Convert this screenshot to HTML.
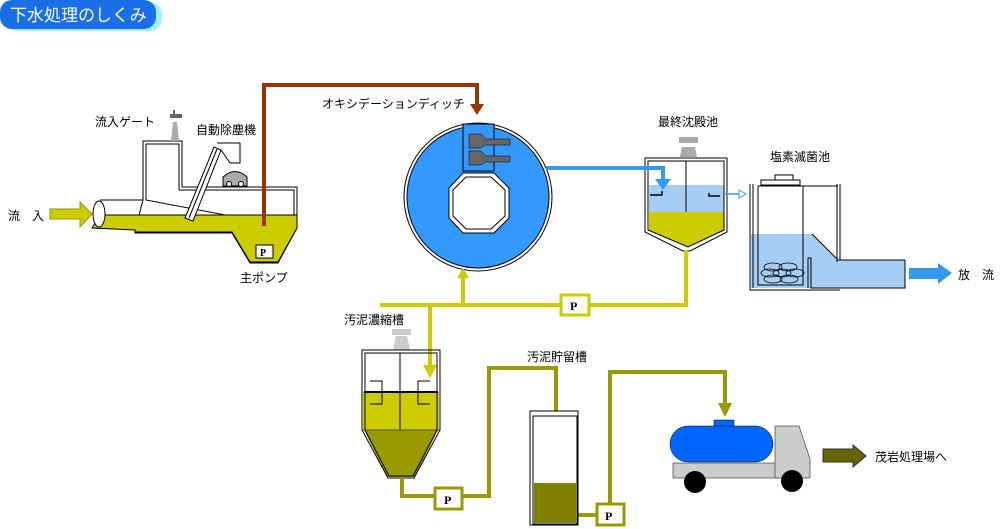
<!DOCTYPE html>
<html><head><meta charset="utf-8"><style>
body{margin:0;background:#fff;}
svg{display:block;font-family:"Liberation Sans","Noto Sans CJK JP",sans-serif;}
</style></head><body>
<svg width="1000" height="529" viewBox="0 0 1000 529" xmlns="http://www.w3.org/2000/svg">
<rect x="6" y="2" width="156" height="29" rx="12" fill="#9ff0ff"/>
<rect x="0" y="0" width="156" height="29" rx="12" fill="#1a6ee8"/>
<text x="10" y="21" font-size="17" fill="#fff">下水処理のしくみ</text>

<g font-size="12" fill="#000">
<text x="95" y="126">流入ゲート</text>
<text x="196" y="134">自動除塵機</text>
<text x="240" y="282">主ポンプ</text>
<text x="8" y="220">流　入</text>
<text x="322" y="108">オキシデーションディッチ</text>
<text x="658" y="126">最終沈殿池</text>
<text x="770" y="161">塩素滅菌池</text>
<text x="958" y="279">放　流</text>
<text x="344" y="324">汚泥濃縮槽</text>
<text x="527" y="361">汚泥貯留槽</text>
<text x="875" y="461">茂岩処理場へ</text>
</g>

<polygon points="50,209 80,209 80,202 92,214 80,227 80,219 50,219" fill="#cccc00" stroke="#999900"/>
<polygon points="143,200 143,141 182,141 182,187 297,187 297,228 278,263 250,263 232,233 135,233 135,230" fill="none" stroke="#000"/>
<polygon points="146,200 146,144 179,144 179,190 294,190 294,228" fill="none" stroke="#000"/>
<path d="M100,200 L143,200" stroke="#000"/>
<polygon points="92,228 100,215 297,215 297,228 278,262 250,262 232,232 135,232 135,230" fill="#cccc00" stroke="#000"/>
<ellipse cx="99" cy="214" rx="6" ry="13" fill="#fff" stroke="#000"/>
<polygon points="171,141 179,141 177,122 173,122" fill="#aaa"/>
<rect x="170" y="114" width="12" height="4" fill="#666"/><rect x="173" y="110" width="2" height="8" fill="#666"/>
<polygon points="185,218 193,221 221,150 214,147" fill="#fff" stroke="#000"/>
<line x1="189" y1="218" x2="217" y2="149" stroke="#000"/>
<path d="M217,143 L240,143 L240,163 L230,163 L221,150" fill="none" stroke="#000"/>
<path d="M223,186 L223,177 Q235,166 247,177 L247,186 Z" fill="#aaa" stroke="#000"/>
<circle cx="229" cy="184" r="2.5" fill="#fff" stroke="#000"/><circle cx="241" cy="184" r="2.5" fill="#fff" stroke="#000"/>
<polyline points="264,226 264,85 477,85 477,105" fill="none" stroke="#993300" stroke-width="4"/>
<polygon points="470,104 484,104 477,115" fill="#993300"/>
<rect x="256" y="245" width="17" height="13" fill="#fff" stroke="#000"/>
<text x="260" y="256" font-size="10" font-weight="bold" font-family="Liberation Serif,serif">P</text>

<circle cx="478" cy="197" r="74" fill="#fff" stroke="#000"/>
<circle cx="478" cy="197" r="71" fill="#3399ff" stroke="#000"/>
<rect x="463" y="124" width="31" height="47" fill="#3399ff" stroke="#000"/>
<polygon points="463,173 494,173 509,188 509,218 494,233 463,233 449,218 449,188" fill="#fff" stroke="#000"/>
<polygon points="466,177 491,177 505,190 505,216 491,229 466,229 453,216 453,190" fill="#fff" stroke="#000"/>
<polygon points="469,134 481,134 486,139 510,139 510,145 486,145 481,148 469,148" fill="#666" stroke="#000" stroke-width=".5"/>
<polygon points="469,151 481,151 486,156 510,156 510,162 486,162 481,165 469,165" fill="#666" stroke="#000" stroke-width=".5"/>

<polygon points="680,157 697,157 695,147 682,147" fill="#aaa"/><rect x="679" y="137" width="19" height="6" fill="#aaa"/>
<polygon points="645,158 727,158 727,232 690,251 683,251 645,232" fill="#fff" stroke="#000"/>
<rect x="649" y="185" width="75" height="27" fill="#a6cef5"/>
<polygon points="649,212 724,212 724,230 688,247 649,230" fill="#cccc00"/>
<polygon points="648,161 724,161 724,230 688,247 648,230" fill="none" stroke="#000"/>
<line x1="686" y1="161" x2="686" y2="212" stroke="#000"/>
<path d="M650,195 L662,195 L662,191" stroke="#000" fill="none" stroke-width="1.5"/>
<path d="M720,196 L709,196 L709,193" stroke="#000" fill="none" stroke-width="1.5"/>
<path d="M725,194 L740,194" stroke="#3399ff" stroke-width="1.5"/><polygon points="739,190 746,194 739,198" fill="#fff" stroke="#3399ff"/>
<polyline points="546,168 663,168 663,180" fill="none" stroke="#3399ff" stroke-width="4"/>
<polygon points="655,179 671,179 663,190" fill="#3399ff"/>

<rect x="761" y="180" width="39" height="5" fill="#fff" stroke="#000"/><rect x="775" y="175" width="18" height="5" fill="#fff" stroke="#000"/>
<polygon points="751,234 812,234 838,260 905,260 905,288 811,288 751,288" fill="#a6cef5"/>
<path d="M750,184 L750,290 L840,290 M905,260 L905,288 L811,288 L811,258 L808,258 L808,288" fill="none" stroke="#000"/>
<path d="M753,184 L753,288 M758,186 L838,186 M758,186 L758,285 L803,285 L803,186 M837,184 L837,262 M840,184 L840,260 M812,234 L838,260 L905,260" fill="none" stroke="#000"/>
<g fill="none" stroke="#000" stroke-width=".8">
<ellipse cx="773" cy="267" rx="9" ry="4"/><ellipse cx="788" cy="267" rx="9" ry="4"/>
<ellipse cx="770" cy="273" rx="9" ry="4"/><ellipse cx="782" cy="273" rx="9" ry="4"/><ellipse cx="795" cy="273" rx="9" ry="4"/>
<ellipse cx="773" cy="279" rx="9" ry="4"/><ellipse cx="789" cy="279" rx="9" ry="4"/></g>
<polygon points="909,268 938,268 938,263 952,273 938,284 938,279 909,279" fill="#3399ee"/>

<g fill="none" stroke="#cccc00" stroke-width="4">
<polyline points="686,250 686,305 380,305"/>
<line x1="463" y1="305" x2="463" y2="276"/>
<polyline points="430,305 430,368"/>
</g>
<polygon points="457,278 469,278 463,268" fill="#cccc00"/>
<polygon points="423,365 437,365 430,378" fill="#cccc00"/>
<rect x="561" y="295" width="28" height="20" fill="#fff" stroke="#cccc00" stroke-width="3"/>
<text x="570" y="310" font-size="12" font-weight="bold" font-family="Liberation Serif,serif">P</text>

<polygon points="393,350 410,350 407,336 396,336" fill="#ccc"/><rect x="392" y="329" width="19" height="6" fill="#ccc"/>
<rect x="363" y="392" width="76" height="38" fill="#cccc00"/>
<polygon points="364,430 438,430 415,477 387,477" fill="#999900"/>
<polygon points="362,350 440,350 440,430 414,478 388,478 362,430" fill="none" stroke="#000"/>
<polygon points="365,353 437,353 437,430 413,476 389,476 365,430" fill="none" stroke="#000"/>
<line x1="364" y1="392" x2="438" y2="392" stroke="#000033" stroke-width="2"/>
<line x1="400" y1="353" x2="400" y2="430" stroke="#000"/>
<path d="M370,381 L382,381 L382,404 L370,404 M430,381 L418,381 L418,404 L430,404" fill="none" stroke="#000"/>
<line x1="362" y1="430" x2="440" y2="430" stroke="#000" stroke-width=".5"/>

<g fill="none" stroke="#999900" stroke-width="4">
<polyline points="402,478 402,496 437,496"/>
<polyline points="462,496 489,496 489,368 556,368 556,434"/>
<polyline points="578,515 596,515"/>
<polyline points="610,503 610,372 725,372 725,404"/>
</g>
<polygon points="549,433 563,433 556,449" fill="#999900"/>
<polygon points="718,403 732,403 725,417" fill="#999900"/>
<rect x="435" y="488" width="27" height="21" fill="#fff" stroke="#999900" stroke-width="3"/>
<text x="444" y="504" font-size="12" font-weight="bold" font-family="Liberation Serif,serif">P</text>
<rect x="597" y="504" width="27" height="21" fill="#fff" stroke="#999900" stroke-width="3"/>
<text x="605" y="520" font-size="12" font-weight="bold" font-family="Liberation Serif,serif">P</text>

<rect x="530" y="411" width="48" height="114" fill="#fff" stroke="#000"/>
<rect x="533" y="416" width="44" height="108" fill="#fff" stroke="#000"/>
<rect x="534" y="483" width="42" height="40" fill="#808000"/>

<rect x="673" y="463" width="105" height="15" fill="#ccc" stroke="#000" stroke-width=".5"/>
<polygon points="775,426 799,426 810,459 810,478 775,478" fill="#ccc" stroke="#000" stroke-width=".5"/>
<rect x="714" y="420" width="20" height="7" fill="#0066ff" stroke="#000" stroke-width=".5"/>
<rect x="670" y="426" width="103" height="36" rx="18" fill="#0066ff" stroke="#000" stroke-width=".5"/>
<circle cx="695" cy="482" r="11" fill="#000"/><circle cx="792" cy="481" r="11" fill="#000"/>
<polygon points="823,449 853,449 853,445 866,456 853,467 853,462 823,462" fill="#666600" stroke="#333"/>
</svg>
</body></html>
